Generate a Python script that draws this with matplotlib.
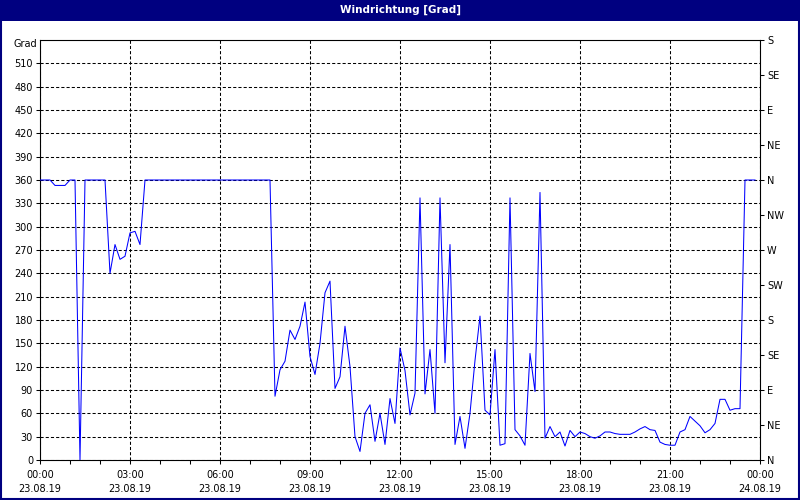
import matplotlib
matplotlib.use("Agg")
import matplotlib.pyplot as plt
import numpy as np
from matplotlib.patches import Rectangle
from matplotlib.ticker import FixedLocator, MultipleLocator

# ---------------- data ----------------
title = "Windrichtung [Grad]"
y_unit = "Grad"
sample_interval_min = 10  # one reading every 10 minutes, starting 23.08.19 00:00

# wind direction in degrees, 00:00 ... 23:50 (12 readings per row = 2 hours)
direction = [
    360, 360, 360, 353, 353, 353, 360, 360, 0, 360, 360, 360,
    360, 360, 240, 277, 258, 262, 292, 294, 277, 360, 360, 360,
    360, 360, 360, 360, 360, 360, 360, 360, 360, 360, 360, 360,
    360, 360, 360, 360, 360, 360, 360, 360, 360, 360, 360, 82,
    116, 127, 167, 155, 172, 203, 133, 110, 150, 215, 230, 92,
    107, 172, 120, 30, 11, 60, 71, 24, 60, 20, 79, 47,
    144, 115, 58, 86, 337, 85, 142, 60, 337, 125, 277, 20,
    56, 15, 60, 128, 185, 64, 58, 142, 19, 21, 337, 39,
    31, 19, 137, 88, 344, 28, 43, 30, 36, 18, 38, 30,
    36, 34, 30, 28, 31, 36, 36, 34, 33, 33, 33, 36,
    40, 43, 39, 38, 23, 20, 19, 19, 36, 39, 56, 50,
    44, 35, 39, 47, 78, 78, 64, 66, 66, 360, 360, 360,
]

y_ticks = [0, 30, 60, 90, 120, 150, 180, 210, 240, 270, 300, 330, 360, 390, 420, 450, 480, 510]
x_tick_hours = [0, 3, 6, 9, 12, 15, 18, 21, 24]
x_tick_labels = ["00:00\n23.08.19", "03:00\n23.08.19", "06:00\n23.08.19",
                 "09:00\n23.08.19", "12:00\n23.08.19", "15:00\n23.08.19",
                 "18:00\n23.08.19", "21:00\n23.08.19", "00:00\n24.08.19"]
compass_ticks = [0, 45, 90, 135, 180, 225, 270, 315, 360, 405, 450, 495, 540]
compass_labels = ["N", "NE", "E", "SE", "S", "SW", "W", "NW", "N", "NE", "E", "SE", "S"]

hours = np.arange(len(direction)) * sample_interval_min / 60.0

# ---------------- figure ----------------
W, H = 800, 500
NAVY = "#000080"
fig = plt.figure(figsize=(W / 100, H / 100), dpi=100, facecolor="white")

# title bar
fig.patches.append(Rectangle((0, 1 - 21 / H), 1, 21 / H, transform=fig.transFigure,
                             facecolor=NAVY, edgecolor="none", zorder=0))
fig.text(0.5, 1 - 10 / H, title, color="white", ha="center", va="center",
         fontsize=7.5, fontweight="bold", family="DejaVu Sans")
# outer border
fig.patches.append(Rectangle((1 / W, 1 / H), 1 - 2 / W, 1 - 2 / H, transform=fig.transFigure,
                             facecolor="none", edgecolor=NAVY, linewidth=1.5, zorder=5))

ax = fig.add_axes([40 / W, 40 / H, 720 / W, 420 / H])
ax.set_facecolor("white")
ax.set_xlim(0, 24)
ax.set_ylim(0, 540)

ax.plot(hours, direction, color="#0000FF", linewidth=0.75, antialiased=True, zorder=3)

ax.xaxis.set_major_locator(FixedLocator(x_tick_hours))
ax.xaxis.set_minor_locator(MultipleLocator(1))
ax.set_xticklabels(x_tick_labels)
ax.yaxis.set_major_locator(FixedLocator(y_ticks))

ax.grid(True, which="major", color="black", linestyle=(0, (3, 2)), linewidth=0.75, zorder=1)
for s in ax.spines.values():
    s.set_color("black")
    s.set_linewidth(0.8)

ax.tick_params(axis="both", which="both", direction="out", length=3, width=0.75,
               labelsize=7, pad=2, colors="black")
ax.tick_params(axis="x", which="major", pad=4)
for lab in ax.get_xticklabels():
    lab.set_linespacing(1.55)
    lab.set_family("DejaVu Sans")

# right compass axis
ax2 = ax.twinx()
ax2.set_ylim(0, 540)
ax2.yaxis.set_major_locator(FixedLocator(compass_ticks))
ax2.set_yticklabels(compass_labels)
ax2.tick_params(axis="y", direction="out", length=3, width=0.75, labelsize=7, pad=2)
for s in ax2.spines.values():
    s.set_visible(False)

fig.text(37 / W, 1 - 44 / H, y_unit, ha="right", va="center", fontsize=7)

fig.savefig("out.png", dpi=100, facecolor="white")
